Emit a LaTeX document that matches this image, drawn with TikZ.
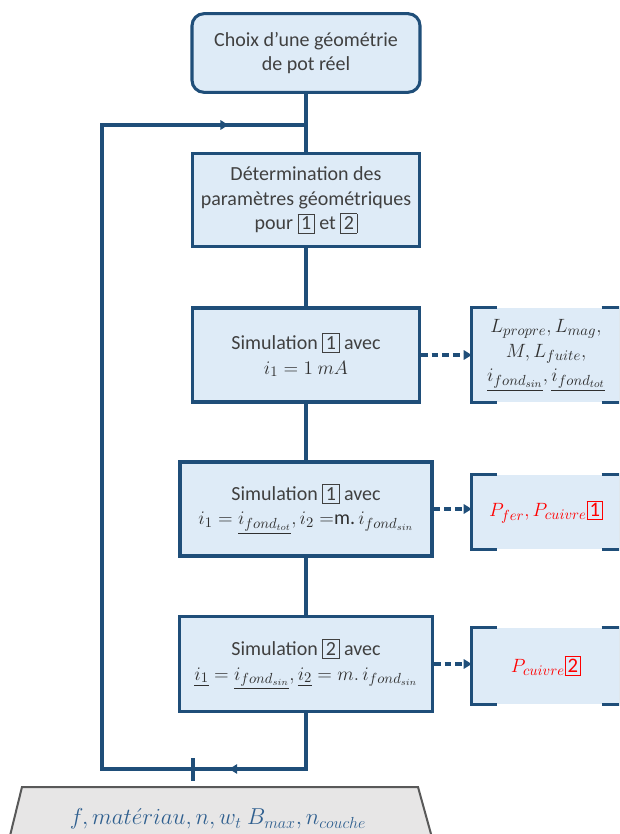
\documentclass[tikz,border=0pt]{standalone}
\usepackage{fontspec}
\setmainfont{Carlito}
\usetikzlibrary{arrows.meta,decorations.markings}
\definecolor{flowblue}{HTML}{1F4E79}
\definecolor{boxfill}{HTML}{DEEBF7}
\definecolor{txtgray}{HTML}{404040}
\definecolor{mathgray}{HTML}{303030}
\definecolor{inputgray}{HTML}{E7E6E6}
\definecolor{inputline}{HTML}{595959}
\definecolor{inputtxt}{HTML}{2F5F8F}
\newcommand{\numbox}[1]{{\fboxsep=2pt\fboxrule=0.6pt\fbox{#1}}}
\newcommand{\rednum}[1]{{\color{red}\fboxsep=1.6pt\fboxrule=0.6pt\fbox{#1}}}
\begin{document}
\begin{tikzpicture}[x=0.75pt,y=-0.75pt,
    flow/.style={draw=flowblue,line width=2.3pt},
    stepbox/.style={draw=flowblue,line width=2.3pt,fill=boxfill,text=txtgray,
      align=center,inner sep=2pt,font=\fontsize{15}{18.5}\selectfont},
    resbox/.style={fill=boxfill,align=center,inner sep=1pt,minimum width=111pt,
      font=\fontsize{15.5}{18.5}\selectfont},
    tip/.style={-{Triangle[length=6pt,width=7pt]}},
    loopflow/.style={postaction={decorate},decoration={markings,
      mark=at position 0.12 with {\arrow{Triangle[length=6pt,width=7pt]}},
      mark=at position 0.93 with {\arrow{Triangle[length=6pt,width=7pt]}}}}]
  \useasboundingbox (0,0) rectangle (619,834);
  \clip (0,0) rectangle (619,834);

  \node[stepbox,rounded corners=9pt,minimum width=171pt,minimum height=59pt] (choix) at (306,53)
    {Choix d’une géométrie\\de pot réel};
  \node[stepbox,minimum width=170pt,minimum height=69.5pt] (param) at (306,200)
    {Détermination des\\paramètres géométriques\\pour \numbox{1} et \numbox{2}};
  \node[stepbox,minimum width=170pt,minimum height=70.5pt] (simA) at (306,355)
    {Simulation \numbox{1} avec\\\color{mathgray}$i_1 = 1\ mA$};
  \node[stepbox,minimum width=189pt,minimum height=70.5pt] (simB) at (306,509)
    {Simulation \numbox{1} avec\\\color{mathgray}$i_1 = \underline{i_{fond_{tot}}}, i_2 = $m.$\,i_{fond_{sin}}$};
  \node[stepbox,minimum width=189.5pt,minimum height=71pt] (simC) at (306,664)
    {Simulation \numbox{2} avec\\\color{mathgray}$\underline{i_1} = \underline{i_{fond_{sin}}}, \underline{i_2} = m.\,i_{fond_{sin}}$};

  \node[resbox,minimum height=71pt,text=mathgray] (resA) at (546,355)
    {$L_{propre}, L_{mag},$\\$M, L_{fuite},$\\$\underline{i_{fond_{sin}}}, \underline{i_{fond_{tot}}}$};
  \node[resbox,minimum height=55.5pt,text=red] (resB) at (546,512)
    {$P_{fer}, P_{cuivre}$\rednum{1}};
  \node[resbox,minimum height=57pt,text=red] (resC) at (546,666)
    {$P_{cuivre}$\rednum{2}};
  \foreach \r in {resA,resB,resC} {
    \draw[flow] ([xshift=19pt]\r.north west) -- (\r.north west) -- (\r.south west) -- ([xshift=19pt]\r.south west);
    \draw[flow] ([xshift=-14pt]\r.north east) -- (\r.north east) -- (\r.south east) -- ([xshift=-14pt]\r.south east);
  }

  \draw[flow] (choix) -- (param);
  \draw[flow] (param) -- (simA);
  \draw[flow] (simA) -- (simB);
  \draw[flow] (simB) -- (simC);
  \draw[flow,tip,dash pattern=on 5pt off 3pt] (simA) -- (resA);
  \draw[flow,tip,dash pattern=on 5pt off 3pt] (simB.east) -- (simB.east -| resB.west);
  \draw[flow,tip,dash pattern=on 5pt off 3pt] (simC.east) -- (simC.east -| resC.west);

  % boucle de retour
  \coordinate (jtop) at (306,125);
  \coordinate (lbot) at (102,769);
  \draw[flow,loopflow] (simC.south) |- (lbot) |- (jtop);
  \coordinate (tickA) at (193,758);
  \coordinate (tickB) at (193,781);
  \draw[flow] (tickA) -- (tickB);

  % donnees d'entree
  \draw[draw=inputline,fill=inputgray,line width=1.5pt] (22,787) -- (418,787) -- (436,852) -- (6,852) -- cycle;
  \node[text=inputtxt,font=\fontsize{18}{21}\selectfont] (donnees) at (218,819)
    {$f, mat\acute{e}riau, n, w_t\ B_{max}, n_{couche}$};
\end{tikzpicture}
\end{document}
